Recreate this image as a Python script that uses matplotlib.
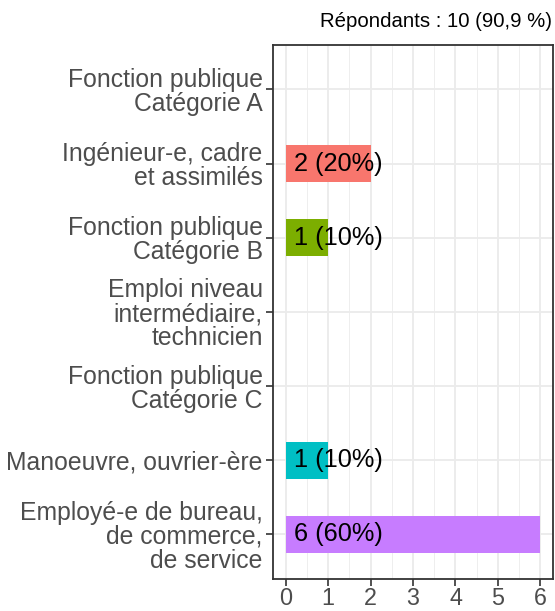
import matplotlib
matplotlib.use("Agg")
import matplotlib.pyplot as plt
import numpy as np

categories = [
    "Fonction publique\nCatégorie A",
    "Ingénieur-e, cadre\net assimilés",
    "Fonction publique\nCatégorie B",
    "Emploi niveau\nintermédiaire,\ntechnicien",
    "Fonction publique\nCatégorie C",
    "Manoeuvre, ouvrier-ère",
    "Employé-e de bureau,\nde commerce,\nde service",
]
counts = [0, 2, 1, 0, 0, 1, 6]
percents = [0, 20, 10, 0, 0, 10, 60]
bar_colors = [None, "#F8766D", "#7CAE00", None, None, "#00BFC4", "#C77CFF"]
title_text = "Répondants : 10 (90,9 %)"
xticks = [0, 1, 2, 3, 4, 5, 6]

plt.rcParams['font.family'] = ['Liberation Sans', 'DejaVu Sans']

fig = plt.figure(figsize=(5.55, 6.11), dpi=100)
ax = fig.add_axes([0.492, 0.0524, 0.5044, 0.874])

n = len(categories)
ypos = np.arange(n)[::-1] + 1  # top category highest

ax.set_xlim(-0.3, 6.3)
ax.set_ylim(0.4, n + 0.6)

# grid
for x in np.arange(0.5, 6.5, 1.0):
    ax.axvline(x, color="#EBEBEB", lw=0.6, zorder=0)
for x in xticks:
    ax.axvline(x, color="#EBEBEB", lw=1.3, zorder=0)
for y in ypos:
    ax.axhline(y, color="#EBEBEB", lw=1.3, zorder=0)

for y, c, p, col in zip(ypos, counts, percents, bar_colors):
    if c > 0:
        ax.barh(y, c, height=0.5, color=col, zorder=2)
        ax.text(0.2, y, f"{c} ({p}%)", ha="left", va="center",
                fontsize=18.3, color="black", zorder=3)

ax.set_yticks(ypos)
ax.set_yticklabels(categories, fontsize=17.8, color="#4D4D4D", linespacing=1.0)
ax.set_xticks(xticks)
ax.set_xticklabels([str(v) for v in xticks], fontsize=16.8, color="#4D4D4D")
ax.tick_params(axis="both", length=5, width=1.2, color="#333333")
ax.tick_params(axis="y", pad=2.5)
ax.tick_params(axis="x", pad=0.5)
for s in ax.spines.values():
    s.set_color("#333333")
    s.set_linewidth(1.3)

fig.text(0.995, 0.965, title_text, ha="right", va="center", fontsize=14.7, color="black")

fig.savefig("out.png", dpi=100)
